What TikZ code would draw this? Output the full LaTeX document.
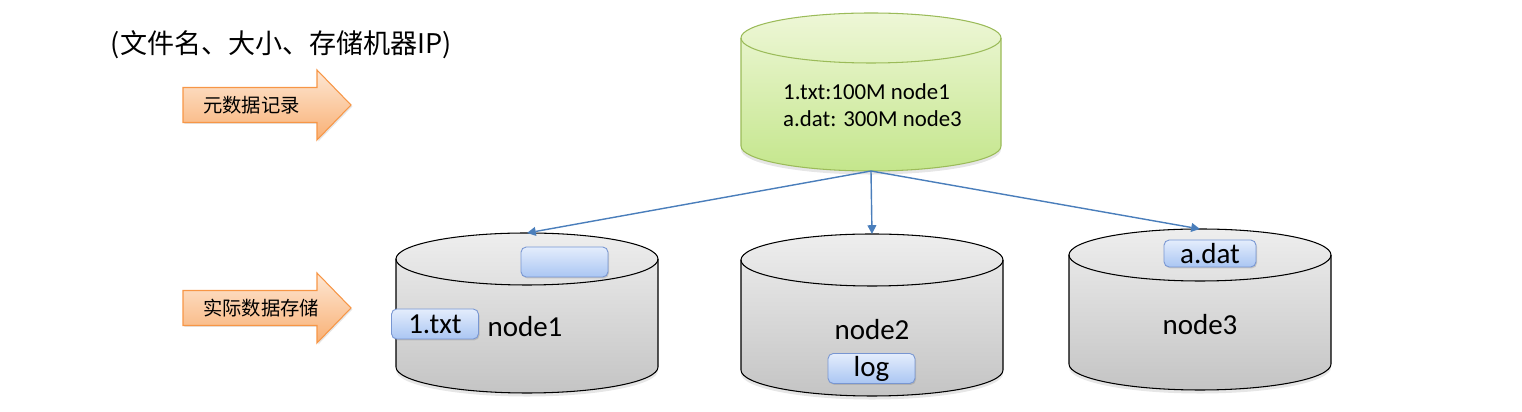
\documentclass[tikz,border=0pt]{standalone}
\usepackage{fontspec}
\setmainfont{Carlito}
\newfontfamily\cjk{Noto Sans CJK SC}
\usetikzlibrary{calc, positioning, shapes, shadows, arrows.meta}

\definecolor{linkblue}{RGB}{74,126,187}
\definecolor{flowedge}{RGB}{247,150,70}
\definecolor{flowtop}{RGB}{253,231,212}
\definecolor{flowbot}{RGB}{249,176,116}
\definecolor{metaedge}{RGB}{155,187,89}
\definecolor{metatop}{RGB}{238,247,215}
\definecolor{metabot}{RGB}{196,230,140}
\definecolor{disktop}{RGB}{238,238,238}
\definecolor{diskbot}{RGB}{196,196,196}
\definecolor{filetop}{RGB}{228,237,252}
\definecolor{filebot}{RGB}{170,198,243}
\definecolor{fileedge}{RGB}{120,150,210}

\tikzset{
  flow/.style={draw=flowedge, line width=0.6pt, top color=flowtop, bottom color=flowbot,
    drop shadow={opacity=0.2, shadow xshift=0.8pt, shadow yshift=-0.8pt}},
  meta/.style={draw=metaedge, line width=0.6pt, top color=metatop, bottom color=metabot,
    drop shadow={opacity=0.2, shadow xshift=0pt, shadow yshift=-2pt}},
  disk/.style={draw=black, line width=0.6pt, top color=disktop, bottom color=diskbot,
    drop shadow={opacity=0.2, shadow xshift=0pt, shadow yshift=-2pt}},
  file/.style={draw=fileedge, line width=0.5pt, rounded corners=3pt, top color=filetop, bottom color=filebot,
    minimum width=1.74cm, minimum height=0.6cm, inner sep=0pt, font=\fontsize{16.5}{18}\selectfont,
    drop shadow={opacity=0.3, shadow xshift=0.6pt, shadow yshift=-0.8pt}},
  link/.style={draw=linkblue, line width=0.8pt, -{Triangle[length=5pt,width=5pt]}},
  label/.style={font=\fontsize{16.5}{18}\selectfont}
}

\begin{document}
\begin{tikzpicture}
  \useasboundingbox (0,0) rectangle (30.44,-8.24);

  \node[font=\cjk\fontsize{15.4}{19}\selectfont] (fields) at (5.63,-0.9) {(文件名、大小、存储机器IP)};

  \foreach \y/\t/\n in {-2.1/元数据记录/meta, -6.16/实际数据存储/store} {
    \path[flow] (3.66,\y+0.35) -- (6.34,\y+0.35) -- (6.34,\y+0.7) -- (7.02,\y)
      -- (6.34,\y-0.7) -- (6.34,\y-0.35) -- (3.66,\y-0.35) -- cycle;
    \node[anchor=west, font=\cjk\fontsize{11}{13}\selectfont] (lbl\n) at (3.94,\y) {\t};
  }

  \path[meta] (14.82,-0.76) -- (14.82,-2.92) arc[start angle=180, end angle=360, x radius=2.6, y radius=0.5]
    -- (20.02,-0.76) arc[start angle=0, end angle=180, x radius=2.6, y radius=0.5] -- cycle;
  \draw[metaedge, line width=0.6pt] (14.82,-0.76) arc[start angle=180, end angle=360, x radius=2.6, y radius=0.5];
  \coordinate (metabase) at (17.42,-3.42);
  \node[align=left, font=\fontsize{13}{15}\selectfont] (metatxt) at (17.45,-2.1) {1.txt:100M node1\\a.dat: 300M node3};

  \foreach \cx/\yt/\yb/\n in {10.54/-5.18/-7.34/1, 17.44/-5.2/-7.4/2, 24.0/-5.1/-7.28/3} {
    \path[disk] (\cx-2.62,\yt) -- (\cx-2.62,\yb) arc[start angle=180, end angle=360, x radius=2.62, y radius=0.52]
      -- (\cx+2.62,\yt) arc[start angle=0, end angle=180, x radius=2.62, y radius=0.52] -- cycle;
    \draw[line width=0.6pt] (\cx-2.62,\yt) arc[start angle=180, end angle=360, x radius=2.62, y radius=0.52];
    \coordinate (top\n) at (\cx,\yt+0.52);
  }

  \node[label] (node1) at (10.5,-6.54) {node1};
  \node[label] (node2) at (17.44,-6.6) {node2};
  \node[label] (node3) at (24.0,-6.5) {node3};

  \node[file] (txt) at (8.7,-6.48) {1.txt};
  \node[file] (blank) at (11.29,-5.24) {};
  \node[file] (log) at (17.43,-7.37) {log};
  \node[file, minimum width=1.84cm, minimum height=0.54cm] (dat) at (24.2,-5.07) {a.dat};

  \draw[link] (metabase) -- (top1);
  \draw[link] (metabase) -- (top2);
  \draw[link] (metabase) -- (top3);
\end{tikzpicture}
\end{document}
